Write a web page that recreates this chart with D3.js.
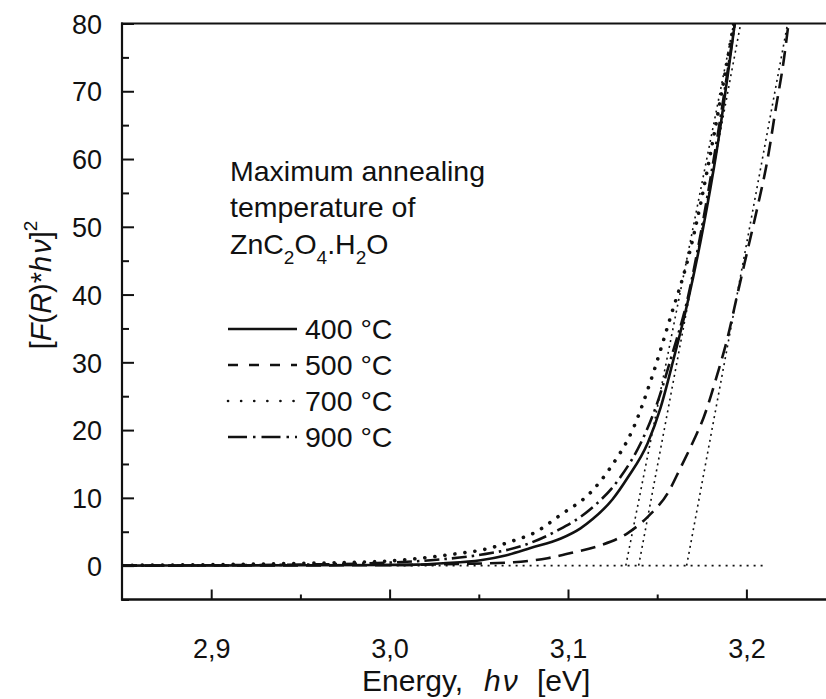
<!DOCTYPE html>
<html>
<head>
<meta charset="utf-8">
<script src="https://cdn.jsdelivr.net/npm/d3@7"></script>
<style>
  html, body { margin: 0; padding: 0; background: #fff; }
  svg { display: block; }
  text { font-family: "Liberation Sans", Arial, sans-serif; fill: #111; }
</style>
</head>
<body>
<svg id="chart" width="826" height="699"></svg>
<script>
// ---------- data ----------
const xTicks = [2.9, 3.0, 3.1, 3.2];
const xTickLabels = ["2,9", "3,0", "3,1", "3,2"];
const xMinorTicks = [2.95, 3.05, 3.15, 3.25];
const yTicks = [0, 10, 20, 30, 40, 50, 60, 70, 80];
const yTickLabels = ["0", "10", "20", "30", "40", "50", "60", "70", "80"];
const yMinorTicks = [-5, 5, 15, 25, 35, 45, 55, 65, 75];

const seriesNames = ["400 °C", "500 °C", "700 °C", "900 °C"];

const energy400 = [2.85, 2.90, 2.95, 3.00, 3.015, 3.03, 3.051, 3.065, 3.079, 3.096, 3.107, 3.114, 3.125, 3.1335, 3.1447, 3.152, 3.1593, 3.1671, 3.1755, 3.1834, 3.1935];
const value400  = [0.0, 0.02, 0.05, 0.1, 0.15, 0.35, 0.8, 1.5, 2.6, 4.0, 5.5, 6.9, 9.8, 13.0, 18.1, 23.4, 30.6, 38.9, 49.5, 61.3, 80];

const energy500 = [2.85, 2.95, 3.00, 3.04, 3.0696, 3.0886, 3.1015, 3.1183, 3.1335, 3.1447, 3.1559, 3.1632, 3.1705, 3.1761, 3.1839, 3.1895, 3.1951, 3.2007, 3.2063, 3.2119, 3.2165, 3.2209, 3.2236];
const value500  = [0.0, 0.03, 0.08, 0.25, 0.5, 1.1, 1.85, 3.0, 4.8, 7.2, 10.7, 14.5, 18.5, 21.9, 28.4, 33.7, 40.2, 46.6, 53.0, 60.0, 67.5, 74.5, 80];

const energy700 = [2.85, 2.90, 2.954, 2.982, 3.0006, 3.0174, 3.0359, 3.055, 3.0696, 3.0808, 3.0959, 3.1127, 3.1239, 3.1368, 3.1464, 3.1576, 3.1671, 3.1744, 3.18, 3.1929];
const value700  = [0.05, 0.15, 0.35, 0.5, 0.7, 1.1, 1.7, 2.5, 3.7, 4.8, 7.5, 10.8, 14.5, 20.4, 27.3, 36.8, 45.1, 53.5, 61.0, 80];

const energy900 = [2.85, 2.90, 2.95, 3.0006, 3.023, 3.051, 3.0752, 3.0942, 3.112, 3.1295, 3.1408, 3.148, 3.1593, 3.166, 3.1744, 3.1817, 3.1935];
const value900  = [0.0, 0.05, 0.15, 0.45, 0.8, 1.6, 3.0, 5.2, 8.2, 13.1, 18.1, 22.5, 32.0, 38.2, 49.0, 60.0, 80];

// tangent (extrapolation) lines: [E at 0, E at 80]
const tangentStart = [3.1324, 3.1396, 3.1665];
const tangentEnd   = [3.1929, 3.1968, 3.2231];
const tangentValues = [0, 80];
const baselineEnergy = [3.00, 3.2097];

// ---------- layout / styles ----------
const svg = d3.select("#chart");
const plotLeft = 122, plotTop = 23.5, plotBottom = 599.5;
const x = d3.scaleLinear().domain([2.85, 3.25]).range([plotLeft, plotLeft + 0.4 * 1784]);
const y = d3.scaleLinear().domain([-5, 80]).range([plotBottom, plotTop]);

const styles = {
  "400 °C": { dash: null, width: 2.6, cap: "butt", legendDash: null, legendWidth: 2.6 },
  "500 °C": { dash: "15 8", width: 2.6, cap: "butt", legendDash: "10 11", legendWidth: 2.6 },
  "700 °C": { dash: "0.1 10", width: 3.6, cap: "round", legendDash: "0.1 13", legendWidth: 2.6 },
  "900 °C": { dash: "15 5 2.5 5", width: 2.6, cap: "butt", legendDash: "19 6 2.5 6", legendWidth: 2.6 }
};

const seriesData = [
  d3.zip(energy400, value400),
  d3.zip(energy500, value500),
  d3.zip(energy700, value700),
  d3.zip(energy900, value900)
];

svg.append("defs").append("clipPath").attr("id", "plotclip")
  .append("rect").attr("x", plotLeft).attr("y", plotTop).attr("width", 720).attr("height", plotBottom - plotTop);

const plot = svg.append("g").attr("clip-path", "url(#plotclip)");

const line = d3.line().x(d => x(d[0])).y(d => y(d[1])).curve(d3.curveMonotoneX);

// baseline dotted
plot.append("line")
  .attr("x1", x(baselineEnergy[0])).attr("x2", x(baselineEnergy[1]))
  .attr("y1", y(0)).attr("y2", y(0))
  .attr("stroke", "#111").attr("stroke-width", 1.6)
  .attr("stroke-dasharray", "2 5");

// tangents
tangentStart.forEach((e0, i) => {
  plot.append("line")
    .attr("x1", x(e0)).attr("y1", y(tangentValues[0]))
    .attr("x2", x(tangentEnd[i])).attr("y2", y(tangentValues[1]))
    .attr("stroke", "#111").attr("stroke-width", 1.6)
    .attr("stroke-dasharray", "2 4");
});

// curves
seriesData.forEach((data, i) => {
  const st = styles[seriesNames[i]];
  plot.append("path")
    .datum(data)
    .attr("d", line)
    .attr("fill", "none")
    .attr("stroke", "#111")
    .attr("stroke-width", st.width)
    .attr("stroke-linecap", st.cap)
    .attr("stroke-dasharray", st.dash);
});

// ---------- axes ----------
const axisColor = "#111";
svg.append("line").attr("x1", plotLeft).attr("x2", plotLeft).attr("y1", plotTop - 1).attr("y2", plotBottom + 1)
  .attr("stroke", axisColor).attr("stroke-width", 2.2);
svg.append("line").attr("x1", plotLeft - 1).attr("x2", 840).attr("y1", plotTop).attr("y2", plotTop)
  .attr("stroke", axisColor).attr("stroke-width", 2.2);
svg.append("line").attr("x1", plotLeft - 1).attr("x2", 840).attr("y1", plotBottom).attr("y2", plotBottom)
  .attr("stroke", axisColor).attr("stroke-width", 2.4);

const xAxis = d3.axisBottom(x).tickValues(xTicks).tickSize(-10).tickPadding(0)
  .tickFormat((d, i) => xTickLabels[i]);
const gx = svg.append("g").attr("transform", `translate(0,${plotBottom})`).call(xAxis);
gx.select(".domain").remove();
gx.selectAll(".tick line").attr("stroke", axisColor).attr("stroke-width", 2);
gx.selectAll(".tick text").attr("y", 0).attr("dy", 0)
  .attr("transform", "translate(0,58.5)")
  .style("font-size", "27px").style("font-family", "'Liberation Sans', Arial, sans-serif").attr("fill", "#111");

const xMinor = d3.axisBottom(x).tickValues(xMinorTicks).tickSize(-5).tickFormat("");
const gxm = svg.append("g").attr("transform", `translate(0,${plotBottom})`).call(xMinor);
gxm.select(".domain").remove();
gxm.selectAll(".tick line").attr("stroke", axisColor).attr("stroke-width", 2);

const yAxis = d3.axisLeft(y).tickValues(yTicks).tickSize(-12).tickPadding(20)
  .tickFormat((d, i) => yTickLabels[i]);
const gy = svg.append("g").attr("transform", `translate(${plotLeft},0)`).call(yAxis);
gy.select(".domain").remove();
gy.selectAll(".tick line").attr("stroke", axisColor).attr("stroke-width", 2);
gy.selectAll(".tick text").attr("x", -20).attr("dy", "0.36em")
  .style("font-size", "27px").style("font-family", "'Liberation Sans', Arial, sans-serif").attr("fill", "#111");

const yMinor = d3.axisLeft(y).tickValues(yMinorTicks).tickSize(-7).tickFormat("");
const gym = svg.append("g").attr("transform", `translate(${plotLeft},0)`).call(yMinor);
gym.select(".domain").remove();
gym.selectAll(".tick line").attr("stroke", axisColor).attr("stroke-width", 2);

// axis titles
const xt = svg.append("text").attr("y", 691).style("font-size", "30px");
xt.append("tspan").attr("x", 362).text("Energy,");
xt.append("tspan").attr("x", 484).attr("font-style", "italic").text("h");
xt.append("tspan").attr("dx", 2).attr("font-style", "italic").text("ν");
xt.append("tspan").attr("x", 537).text("[eV]");

const yt = svg.append("text").attr("transform", "translate(51,285) rotate(-90)")
  .attr("text-anchor", "middle").style("font-size", "29px");
yt.append("tspan").text("[");
yt.append("tspan").attr("font-style", "italic").text("F");
yt.append("tspan").text("(");
yt.append("tspan").attr("font-style", "italic").text("R");
yt.append("tspan").text(")*");
yt.append("tspan").attr("font-style", "italic").text("h");
yt.append("tspan").attr("dx", 2).attr("font-style", "italic").text("ν");
yt.append("tspan").text("]");
yt.append("tspan").attr("dy", -14).style("font-size", "19px").text("2");

// ---------- legend ----------
const lg = svg.append("g");
const lx = 230;
lg.append("text").attr("x", lx).attr("y", 181).style("font-size", "28.5px").text("Maximum annealing");
lg.append("text").attr("x", lx).attr("y", 217).style("font-size", "28.5px").text("temperature of");
const chem = lg.append("text").attr("x", lx).attr("y", 254).style("font-size", "28.5px");
chem.append("tspan").text("ZnC");
chem.append("tspan").attr("dy", 10).style("font-size", "19px").text("2");
chem.append("tspan").attr("dy", -10).text("O");
chem.append("tspan").attr("dy", 10).style("font-size", "19px").text("4");
chem.append("tspan").attr("dy", -10).text(".H");
chem.append("tspan").attr("dy", 10).style("font-size", "19px").text("2");
chem.append("tspan").attr("dy", -10).text("O");

const legendBaselines = [339, 375, 411, 447];
seriesNames.forEach((name, i) => {
  const st = styles[name];
  const by = legendBaselines[i];
  lg.append("line")
    .attr("x1", 228).attr("x2", 297)
    .attr("y1", by - 10).attr("y2", by - 10)
    .attr("stroke", "#111").attr("stroke-width", st.legendWidth)
    .attr("stroke-linecap", st.cap)
    .attr("stroke-dasharray", st.legendDash);
  lg.append("text").attr("x", 305).attr("y", by).style("font-size", "28.5px").text(name);
});
</script>
</body>
</html>
